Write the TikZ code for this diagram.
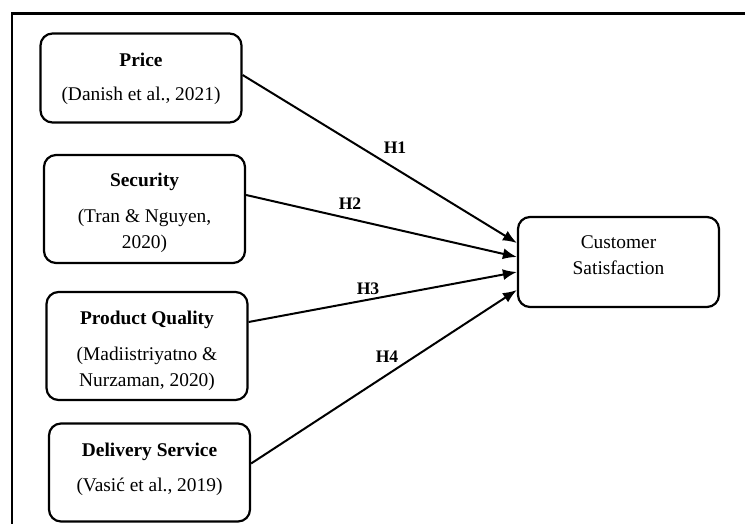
\documentclass[tikz,border=0pt]{standalone}
\usepackage{fontspec}
\setmainfont{Liberation Serif}
\usetikzlibrary{arrows.meta}
\begin{document}
\begin{tikzpicture}[x=0.5pt,y=-0.5pt,
  box/.style={draw, line width=1.1pt, rounded corners=6pt, inner sep=0pt, minimum width=100.5pt},
  txt/.style={font=\fontsize{9.7}{11}\selectfont, inner sep=0pt, anchor=base},
  ttl/.style={inner sep=0pt, anchor=base, font=\fontsize{9.7}{11}\selectfont\bfseries},
  hyp/.style={inner sep=0pt, font=\fontsize{8.8}{10}\selectfont\bfseries},
  arr/.style={line width=1pt, -{Latex[length=7pt,width=5.5pt]}},
  frame/.style={line width=1.4pt}]
\useasboundingbox (0,0) rectangle (745,524);
% frame (cropped: only top and left sides visible)
\draw[frame] (12,524) -- (12,13) -- (745,13);
\draw[line width=0.6pt] (12,14.5) -- (745,14.5);
% boxes
\node[box, minimum height=44.5pt] (price) at (141,78) {};
\node[box, minimum height=54pt] (sec) at (144.5,209) {};
\node[box, minimum height=54pt] (pq) at (147,346) {};
\node[box, minimum height=49pt] (del) at (149.5,472.5) {};
\node[box, minimum height=45pt] (cs) at (618.5,262) {};
% texts
\node[ttl] (t1a) at (141,67) {Price};
\node[txt] (t1b) at (141,101) {(Danish et al., 2021)};
\node[ttl] (t2a) at (144.5,187) {Security};
\node[txt] (t2b) at (144.5,222) {(Tran \& Nguyen,};
\node[txt] (t2c) at (144.5,249) {2020)};
\node[ttl] (t3a) at (147,324) {Product Quality};
\node[txt] (t3b) at (147,360) {(Madiistriyatno \&};
\node[txt] (t3c) at (147,386) {Nurzaman, 2020)};
\node[ttl] (t4a) at (149.5,456) {Delivery Service};
\node[txt] (t4b) at (149.5,491) {(Vasić et al., 2019)};
\node[txt] (t5a) at (618.5,249) {Customer};
\node[txt] (t5b) at (618.5,274) {Satisfaction};
% connectors
\draw[arr] ([yshift=1.5pt]price.east) -- ([yshift=9.5pt]cs.west);
\draw[arr] ([yshift=7pt]sec.east) -- ([yshift=2.5pt]cs.west);
\draw[arr] ([yshift=12pt]pq.east) -- ([yshift=-5pt]cs.west);
\draw[arr] ([yshift=4.5pt]del.east) -- ([yshift=-14pt]cs.west);
% hypothesis labels
\node[hyp] (h1) at (395,148) {H1};
\node[hyp] (h2) at (350,204) {H2};
\node[hyp] (h3) at (368,289) {H3};
\node[hyp] (h4) at (387,357) {H4};
\end{tikzpicture}
\end{document}
